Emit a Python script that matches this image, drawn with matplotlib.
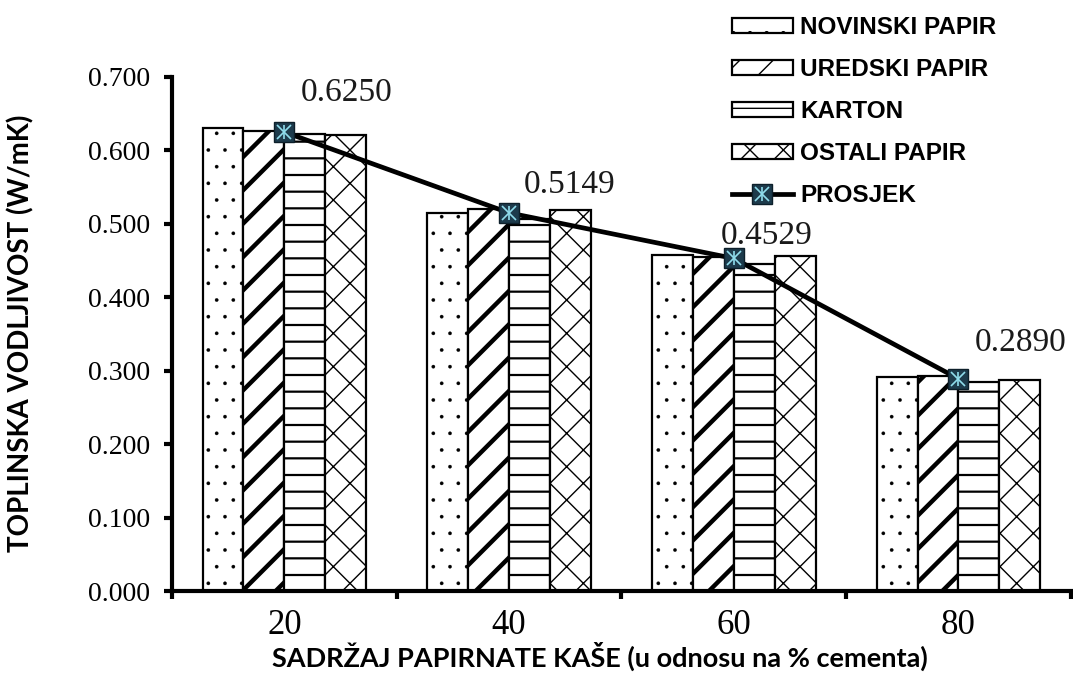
import matplotlib.pyplot as plt
import numpy as np
from matplotlib.lines import Line2D
from matplotlib.legend_handler import HandlerTuple

# toplinska vodljivost po sadrzaju papirnate kase
categories = ['20', '40', '60', '80']
novinski = [0.630, 0.515, 0.457, 0.291]
uredski = [0.627, 0.520, 0.455, 0.293]
karton = [0.622, 0.506, 0.445, 0.285]
ostali = [0.621, 0.519, 0.456, 0.288]
prosjek = [0.6250, 0.5149, 0.4529, 0.2890]
series_names = ['NOVINSKI PAPIR', 'UREDSKI PAPIR', 'KARTON', 'OSTALI PAPIR']

serif = ['Liberation Serif', 'DejaVu Serif']
sans_b = ['Liberation Sans', 'DejaVu Sans']
label_font = ['Lato', 'Open Sans', 'DejaVu Sans']

fig = plt.figure(figsize=(10.73, 6.74), dpi=100)
ax = fig.add_axes([0.1603, 0.1231, 0.8377, 0.7627])

x = np.arange(len(categories))
w = 0.182
styles = [('.', 0.2), ('/', 3.2), ('-', 1.6), ('x', 1.0)]
bars = []
for i, (vals, (h, hlw)) in enumerate(zip([novinski, uredski, karton, ostali], styles)):
    plt.rcParams['hatch.linewidth'] = hlw
    b = ax.bar(x + (i - 1.5) * w, vals, w, facecolor='white', edgecolor='black',
               linewidth=1.6, hatch=h, zorder=2, label=series_names[i])
    for p in b:
        if hasattr(p, 'set_hatch_linewidth'):
            p.set_hatch_linewidth(hlw)
    bars.append(b)

# average line with asterisk-in-square markers
ax.plot(x, prosjek, color='black', lw=3.4, zorder=4)
ax.plot(x, prosjek, ls='none', marker='s', ms=15, mfc='#1d3b4c', mec='#0d1f2a',
        mew=1.0, zorder=5)
ax.plot(x, prosjek, ls='none', marker='x', ms=10, mec='#8fdcec', mew=1.2, zorder=6)
ax.plot(x, prosjek, ls='none', marker='|', ms=10, mec='#8fdcec', mew=1.2, zorder=6)

label_off = [(0.276, 0.053), (0.267, 0.038), (0.147, 0.031), (0.276, 0.049)]
for xi, v, (dx, dy) in zip(x, prosjek, label_off):
    ax.text(xi + dx, v + dy, f'{v:.4f}', ha='center', va='center',
            fontsize=24, family=serif, color='#1a1a1a')

ax.set_xlim(-0.5, len(categories) - 0.5)
ax.set_ylim(0, 0.7)
ax.set_yticks(np.arange(0, 0.71, 0.1))
ax.set_yticklabels([f'{t:.3f}' for t in np.arange(0, 0.71, 0.1)],
                   fontsize=20, family=serif)
ax.set_xticks(np.arange(-0.5, len(categories), 1.0))
ax.set_xticklabels([])
ax.set_xticks(x, minor=True)
ax.set_xticklabels(categories, minor=True, fontsize=25, family=serif)
ax.tick_params(axis='x', which='minor', length=0, pad=13)
ax.tick_params(axis='x', which='major', length=6, width=3, direction='out')
ax.tick_params(axis='y', length=6, width=3, direction='out', pad=10)

for s in ['top', 'right']:
    ax.spines[s].set_visible(False)
for s in ['left', 'bottom']:
    ax.spines[s].set_linewidth(3)
    ax.spines[s].set_zorder(7)

fig.text(0.019, 0.505, 'TOPLINSKA VODLJIVOST (W/mK)', rotation=90, ha='center',
         va='center', fontsize=20, fontweight='bold', family=label_font)
fig.text(0.559, 0.004, 'SADRŽAJ PAPIRNATE KAŠE (u odnosu na % cementa)', ha='center',
         va='bottom', fontsize=19.5, fontweight='bold', family=label_font)

avg_handle = (Line2D([], [], color='black', lw=3.4),
              Line2D([], [], ls='none', marker='s', ms=15, mfc='#1d3b4c', mec='#0d1f2a'),
              Line2D([], [], ls='none', marker='x', ms=10, mec='#8fdcec', mew=1.2),
              Line2D([], [], ls='none', marker='|', ms=10, mec='#8fdcec', mew=1.2))
handles = bars + [avg_handle]
labels = series_names + ['PROSJEK']
leg = fig.legend(handles, labels, loc='upper left', bbox_to_anchor=(0.664, 1.005),
                 frameon=False, prop={'family': sans_b, 'weight': 'bold', 'size': 17.5},
                 handlelength=2.5, handleheight=0.6, handletextpad=0.3,
                 labelspacing=0.78, borderpad=0.3,
                 handler_map={tuple: HandlerTuple(ndivide=1)})

fig.savefig('out.png', dpi=100)
